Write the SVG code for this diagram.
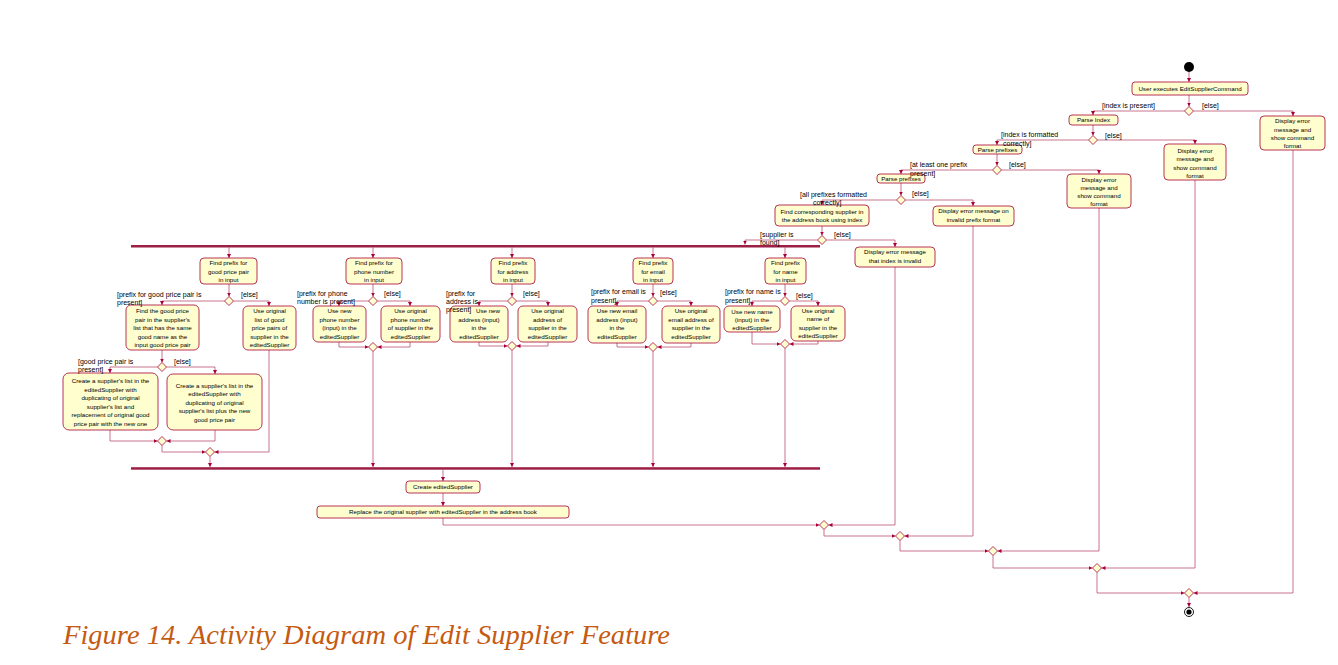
<svg xmlns="http://www.w3.org/2000/svg" width="1338" height="665" viewBox="0 0 1338 665">
<defs>
<marker id="ah" markerUnits="userSpaceOnUse" markerWidth="5" markerHeight="5" refX="4" refY="2" orient="auto"><path d="M0,0 L4,2 L0,4 z" fill="#A80036"/></marker>
<style>
.n rect{fill:#FEFECE;stroke:#A80036;stroke-width:0.8}
.n polygon{fill:#FEFECE;stroke:#A80036;stroke-width:0.8}
.t{font-family:"Liberation Sans",Arial,sans-serif;font-size:6.2px;fill:#000;text-anchor:middle}
.g{font-family:"Liberation Sans",Arial,sans-serif;font-size:7px;fill:#000}
.c path{fill:none;stroke:#B8506C;stroke-width:0.8;marker-end:url(#ah)}
.bar{fill:#9C1F45}
</style>
</defs>
<rect width="1338" height="665" fill="#fff"/>

<g id="connectors" class="c">
<path d="M1189,72 V82"/>
<path d="M1189,95 V106.5"/>
<path d="M1184.5,111 H1093 V115"/>
<path d="M1193.5,111 H1293 V116"/>
<path d="M1093,125 V135.5"/>
<path d="M1088.5,140 H997 V145"/>
<path d="M1097.5,140 H1195 V144"/>
<path d="M997,154 V165.5"/>
<path d="M992.5,170 H901 V174"/>
<path d="M1001.5,170 H1099 V174"/>
<path d="M901,183 V195.5"/>
<path d="M896.5,200 H822 V205"/>
<path d="M905.5,200 H973 V206"/>
<path d="M822,226 V235.5"/>
<path d="M817.5,240 H745 V244.5"/>
<path d="M826.5,240 H895 V247"/>
<!-- branch 1 -->
<path d="M229,247.5 V258"/>
<path d="M229,284 V296.5"/>
<path d="M224.5,301 H162 V305"/>
<path d="M233.5,301 H269 V306"/>
<path d="M162,350 V362.5"/>
<path d="M157.5,367 H110 V373"/>
<path d="M166.5,367 H215 V374"/>
<path d="M110,430 V441 H157.5"/>
<path d="M215,430 V441 H166.5"/>
<path d="M162,445.5 V452 H205.5"/>
<path d="M269,350 V452 H214.5"/>
<path d="M210,456.5 V467"/>
<!-- branch 2 -->
<path d="M373,247.5 V258"/>
<path d="M373,284 V296.5"/>
<path d="M368.5,301 H339 V306"/>
<path d="M377.5,301 H410 V306"/>
<path d="M339,342 V347 H368.5"/>
<path d="M410,342 V347 H377.5"/>
<path d="M373,351.5 V467"/>
<!-- branch 3 -->
<path d="M512,247.5 V258"/>
<path d="M512,284 V296.5"/>
<path d="M507.5,301 H479 V306"/>
<path d="M516.5,301 H548 V306"/>
<path d="M479,342 V346 H507.5"/>
<path d="M548,342 V346 H516.5"/>
<path d="M512,350.5 V467"/>
<!-- branch 4 -->
<path d="M653,247.5 V258"/>
<path d="M653,284 V296.5"/>
<path d="M648.5,301 H617 V306"/>
<path d="M657.5,301 H691 V306"/>
<path d="M617,343 V347 H648.5"/>
<path d="M691,343 V347 H657.5"/>
<path d="M653,351.5 V467"/>
<!-- branch 5 -->
<path d="M785,247.5 V258"/>
<path d="M785,284 V296.5"/>
<path d="M780.5,301 H752 V306"/>
<path d="M789.5,301 H818 V306"/>
<path d="M752,332 V344 H780.5"/>
<path d="M818,341 V344 H789.5"/>
<path d="M785,348.5 V467"/>
<!-- after join -->
<path d="M443,470 V481"/>
<path d="M443,493 V506"/>
<path d="M443,518 V525 H819.5"/>
<path d="M895,267 V525 H828.5"/>
<path d="M824,529.5 V536 H895.5"/>
<path d="M973,226 V536 H904.5"/>
<path d="M900,540.5 V551 H988.5"/>
<path d="M1099,208 V551 H997.5"/>
<path d="M993,555.5 V568 H1092.5"/>
<path d="M1195,180 V568 H1101.5"/>
<path d="M1097,572.5 V593 H1184.5"/>
<path d="M1293,150 V593 H1193.5"/>
<path d="M1189,597.5 V607"/>
</g>

<g id="start"><circle cx="1189" cy="67" r="5" fill="#000"/></g>
<g id="n_user" class="n"><rect x="1132" y="82" width="116" height="13" rx="3"/><text class="t" x="1190" y="90.7">User executes EditSupplierCommand</text></g>
<g id="d1" class="n"><polygon points="1189,106.5 1193.5,111 1189,115.5 1184.5,111"/></g>
<g id="n_parseIndex" class="n"><rect x="1069" y="115" width="49" height="10" rx="3"/><text class="t" x="1093.5" y="122.2">Parse Index</text></g>
<g id="n_err1" class="n"><rect x="1260" y="116" width="65" height="34" rx="4"/><text class="t"><tspan x="1292.5" y="123">Display error</tspan><tspan x="1292.5" y="131.5">message and</tspan><tspan x="1292.5" y="139.5">show command</tspan><tspan x="1292.5" y="147.5">format</tspan></text></g>
<g id="d2" class="n"><polygon points="1093,135.5 1097.5,140 1093,144.5 1088.5,140"/></g>
<g id="n_parsePrefixes1" class="n"><rect x="973" y="145" width="49" height="9" rx="3"/><text class="t" x="997.5" y="151.8">Parse prefixes</text></g>
<g id="n_err2" class="n"><rect x="1164" y="144" width="62" height="36" rx="4"/><text class="t"><tspan x="1195" y="152.5">Display error</tspan><tspan x="1195" y="161">message and</tspan><tspan x="1195" y="169.5">show command</tspan><tspan x="1195" y="178">format</tspan></text></g>
<g id="d3" class="n"><polygon points="997,165.5 1001.5,170 997,174.5 992.5,170"/></g>
<g id="n_parsePrefixes2" class="n"><rect x="877" y="174" width="48" height="9" rx="3"/><text class="t" x="901" y="180.8">Parse prefixes</text></g>
<g id="n_err3" class="n"><rect x="1067" y="174" width="64" height="34" rx="4"/><text class="t"><tspan x="1099" y="181.7">Display error</tspan><tspan x="1099" y="189.7">message and</tspan><tspan x="1099" y="197.7">show command</tspan><tspan x="1099" y="205.7">format</tspan></text></g>
<g id="d4" class="n"><polygon points="901,195.5 905.5,200 901,204.5 896.5,200"/></g>
<g id="n_find" class="n"><rect x="775" y="205" width="94" height="21" rx="4"/><text class="t"><tspan x="822" y="213.5">Find corresponding supplier in</tspan><tspan x="822" y="222">the address book using index</tspan></text></g>
<g id="n_err4" class="n"><rect x="933" y="206" width="81" height="20" rx="4"/><text class="t"><tspan x="973.5" y="213.2">Display error message on</tspan><tspan x="973.5" y="222.2">invalid prefix format</tspan></text></g>
<g id="d5" class="n"><polygon points="822,235.5 826.5,240 822,244.5 817.5,240"/></g>
<g id="n_err5" class="n"><rect x="855" y="247" width="80" height="20" rx="4"/><text class="t"><tspan x="895" y="254.2">Display error message</tspan><tspan x="895" y="262.5">that index is invalid</tspan></text></g>

<g id="fork"><rect class="bar" x="131" y="245" width="689" height="2.5"/></g>

<!-- branch 1 -->
<g id="n_b1find" class="n"><rect x="200" y="258" width="57" height="26" rx="4"/><text class="t"><tspan x="228.5" y="265">Find prefix for</tspan><tspan x="228.5" y="273.5">good price pair</tspan><tspan x="228.5" y="282">in input</tspan></text></g>
<g id="d_b1a" class="n"><polygon points="229,296.5 233.5,301 229,305.5 224.5,301"/></g>
<g id="n_b1findgp" class="n"><rect x="126" y="305" width="73" height="45" rx="5"/><text class="t"><tspan x="162.5" y="313">Find the good price</tspan><tspan x="162.5" y="321.5">pair in the supplier's</tspan><tspan x="162.5" y="330">list that has the same</tspan><tspan x="162.5" y="338.5">good name as the</tspan><tspan x="162.5" y="347">input good price pair</tspan></text></g>
<g id="n_b1orig" class="n"><rect x="243" y="306" width="53" height="44" rx="5"/><text class="t"><tspan x="269.5" y="313">Use original</tspan><tspan x="269.5" y="321.5">list of good</tspan><tspan x="269.5" y="330">price pairs of</tspan><tspan x="269.5" y="338.5">supplier in the</tspan><tspan x="269.5" y="347">editedSupplier</tspan></text></g>
<g id="d_b1b" class="n"><polygon points="162,362.5 166.5,367 162,371.5 157.5,367"/></g>
<g id="n_b1left" class="n"><rect x="63" y="373" width="95" height="57" rx="6"/><text class="t"><tspan x="110.5" y="383">Create a supplier's list in the</tspan><tspan x="110.5" y="391.5">editedSupplier with</tspan><tspan x="110.5" y="400">duplicating of original</tspan><tspan x="110.5" y="408.5">supplier's list and</tspan><tspan x="110.5" y="417">replacement of original good</tspan><tspan x="110.5" y="425.5">price pair with the new one</tspan></text></g>
<g id="n_b1right" class="n"><rect x="167" y="374" width="95" height="56" rx="6"/><text class="t"><tspan x="214.5" y="387.5">Create a supplier's list in the</tspan><tspan x="214.5" y="396">editedSupplier with</tspan><tspan x="214.5" y="404.5">duplicating of original</tspan><tspan x="214.5" y="413">supplier's list plus the new</tspan><tspan x="214.5" y="421.5">good price pair</tspan></text></g>
<g id="d_b1m1" class="n"><polygon points="162,436.5 166.5,441 162,445.5 157.5,441"/></g>
<g id="d_b1m2" class="n"><polygon points="210,447.5 214.5,452 210,456.5 205.5,452"/></g>

<!-- branch 2 -->
<g id="n_b2find" class="n"><rect x="346" y="258" width="56" height="26" rx="4"/><text class="t"><tspan x="374" y="265">Find prefix for</tspan><tspan x="374" y="273.5">phone number</tspan><tspan x="374" y="282">in input</tspan></text></g>
<g id="d_b2a" class="n"><polygon points="373,296.5 377.5,301 373,305.5 368.5,301"/></g>
<g id="n_b2new" class="n"><rect x="313" y="306" width="53" height="36" rx="5"/><text class="t"><tspan x="339.5" y="313">Use new</tspan><tspan x="339.5" y="321.5">phone number</tspan><tspan x="339.5" y="330">(input) in the</tspan><tspan x="339.5" y="338.5">editedSupplier</tspan></text></g>
<g id="n_b2orig" class="n"><rect x="381" y="306" width="59" height="36" rx="5"/><text class="t"><tspan x="410.5" y="313">Use original</tspan><tspan x="410.5" y="321.5">phone number</tspan><tspan x="410.5" y="330">of supplier in the</tspan><tspan x="410.5" y="338.5">editedSupplier</tspan></text></g>
<g id="d_b2m" class="n"><polygon points="373,342.5 377.5,347 373,351.5 368.5,347"/></g>

<!-- branch 3 -->
<g id="n_b3find" class="n"><rect x="491" y="258" width="44" height="26" rx="4"/><text class="t"><tspan x="513" y="265">Find prefix</tspan><tspan x="513" y="273.5">for address</tspan><tspan x="513" y="282">in input</tspan></text></g>
<g id="d_b3a" class="n"><polygon points="512,296.5 516.5,301 512,305.5 507.5,301"/></g>
<g id="n_b3new" class="n"><rect x="450" y="306" width="58" height="36" rx="5"/><text class="t"><tspan x="488" y="313">Use new</tspan><tspan x="479" y="321.5">address (input)</tspan><tspan x="479" y="330">in the</tspan><tspan x="479" y="338.5">editedSupplier</tspan></text></g>
<g id="n_b3orig" class="n"><rect x="518" y="306" width="59" height="36" rx="5"/><text class="t"><tspan x="547.5" y="313">Use original</tspan><tspan x="547.5" y="321.5">address of</tspan><tspan x="547.5" y="330">supplier in the</tspan><tspan x="547.5" y="338.5">editedSupplier</tspan></text></g>
<g id="d_b3m" class="n"><polygon points="512,341.5 516.5,346 512,350.5 507.5,346"/></g>

<!-- branch 4 -->
<g id="n_b4find" class="n"><rect x="633" y="258" width="40" height="26" rx="4"/><text class="t"><tspan x="653" y="265">Find prefix</tspan><tspan x="653" y="273.5">for email</tspan><tspan x="653" y="282">in input</tspan></text></g>
<g id="d_b4a" class="n"><polygon points="653,296.5 657.5,301 653,305.5 648.5,301"/></g>
<g id="n_b4new" class="n"><rect x="588" y="306" width="58" height="37" rx="5"/><text class="t"><tspan x="617" y="313">Use new email</tspan><tspan x="617" y="321.5">address (input)</tspan><tspan x="617" y="330">in the</tspan><tspan x="617" y="338.5">editedSupplier</tspan></text></g>
<g id="n_b4orig" class="n"><rect x="662" y="306" width="58" height="37" rx="5"/><text class="t"><tspan x="691" y="313">Use original</tspan><tspan x="691" y="321.5">email address of</tspan><tspan x="691" y="330">supplier in the</tspan><tspan x="691" y="338.5">editedSupplier</tspan></text></g>
<g id="d_b4m" class="n"><polygon points="653,342.5 657.5,347 653,351.5 648.5,347"/></g>

<!-- branch 5 -->
<g id="n_b5find" class="n"><rect x="765" y="258" width="41" height="26" rx="4"/><text class="t"><tspan x="785.5" y="265">Find prefix</tspan><tspan x="785.5" y="273.5">for name</tspan><tspan x="785.5" y="282">in input</tspan></text></g>
<g id="d_b5a" class="n"><polygon points="785,296.5 789.5,301 785,305.5 780.5,301"/></g>
<g id="n_b5new" class="n"><rect x="724" y="306" width="56" height="26" rx="5"/><text class="t"><tspan x="752" y="314.3">Use new name</tspan><tspan x="752" y="322.3">(input) in the</tspan><tspan x="752" y="330.3">editedSupplier</tspan></text></g>
<g id="n_b5orig" class="n"><rect x="791" y="306" width="54" height="35" rx="5"/><text class="t"><tspan x="818" y="312.7">Use original</tspan><tspan x="818" y="321.2">name of</tspan><tspan x="818" y="329.7">supplier in the</tspan><tspan x="818" y="338">editedSupplier</tspan></text></g>
<g id="d_b5m" class="n"><polygon points="785,339.5 789.5,344 785,348.5 780.5,344"/></g>

<g id="join"><rect class="bar" x="131" y="467.2" width="689" height="2.5"/></g>

<g id="n_create" class="n"><rect x="406" y="481" width="74" height="12" rx="3"/><text class="t" x="443" y="489.2">Create editedSupplier</text></g>
<g id="n_replace" class="n"><rect x="317" y="506" width="252" height="12" rx="3"/><text class="t" x="443" y="514.2">Replace the original supplier with editedSupplier in the address book</text></g>

<g id="m1" class="n"><polygon points="824,520.5 828.5,525 824,529.5 819.5,525"/></g>
<g id="m2" class="n"><polygon points="900,531.5 904.5,536 900,540.5 895.5,536"/></g>
<g id="m3" class="n"><polygon points="993,546.5 997.5,551 993,555.5 988.5,551"/></g>
<g id="m4" class="n"><polygon points="1097,563.5 1101.5,568 1097,572.5 1092.5,568"/></g>
<g id="m5" class="n"><polygon points="1189,588.5 1193.5,593 1189,597.5 1184.5,593"/></g>

<g id="end"><circle cx="1189" cy="612" r="4.5" fill="#fff" stroke="#000" stroke-width="0.9"/><circle cx="1189" cy="612" r="2.6" fill="#000"/></g>

<g id="guards" class="g">
<text x="1102" y="107.5">[index is present]</text>
<text x="1202" y="107.5">[else]</text>
<text x="1001" y="137">[index is formatted</text>
<text x="1003" y="145.5">correctly]</text>
<text x="1105" y="137.5">[else]</text>
<text x="910" y="166.5">[at least one prefix</text>
<text x="910" y="175.5">present]</text>
<text x="1009" y="166.5">[else]</text>
<text x="800" y="196.5">[all prefixes formatted</text>
<text x="813" y="204.5">correctly]</text>
<text x="912" y="195.5">[else]</text>
<text x="760" y="236.5">[supplier is</text>
<text x="760" y="244.5">found]</text>
<text x="834" y="236.5">[else]</text>
<text x="117" y="296.5">[prefix for good price pair is</text>
<text x="117" y="304.5">present]</text>
<text x="241" y="296.5">[else]</text>
<text x="78" y="363.5">[good price pair is</text>
<text x="78" y="371.5">present]</text>
<text x="174" y="364">[else]</text>
<text x="297" y="295.5">[prefix for phone</text>
<text x="297" y="303.5">number is present]</text>
<text x="384" y="295.5">[else]</text>
<text x="446" y="295.5">[prefix for</text>
<text x="446" y="303.5">address is</text>
<text x="446" y="311.5">present]</text>
<text x="523" y="295.5">[else]</text>
<text x="591" y="294">[prefix for email is</text>
<text x="591" y="302.5">present]</text>
<text x="660" y="295">[else]</text>
<text x="725" y="294">[prefix for name is</text>
<text x="725" y="302.5">present]</text>
<text x="796" y="297.5">[else]</text>
</g>

<g id="caption"><text x="63" y="644" font-family="Liberation Serif, Times New Roman, serif" font-style="italic" font-size="27" fill="#C55A11" textLength="607" lengthAdjust="spacingAndGlyphs">Figure 14. Activity Diagram of Edit Supplier Feature</text></g>
</svg>
